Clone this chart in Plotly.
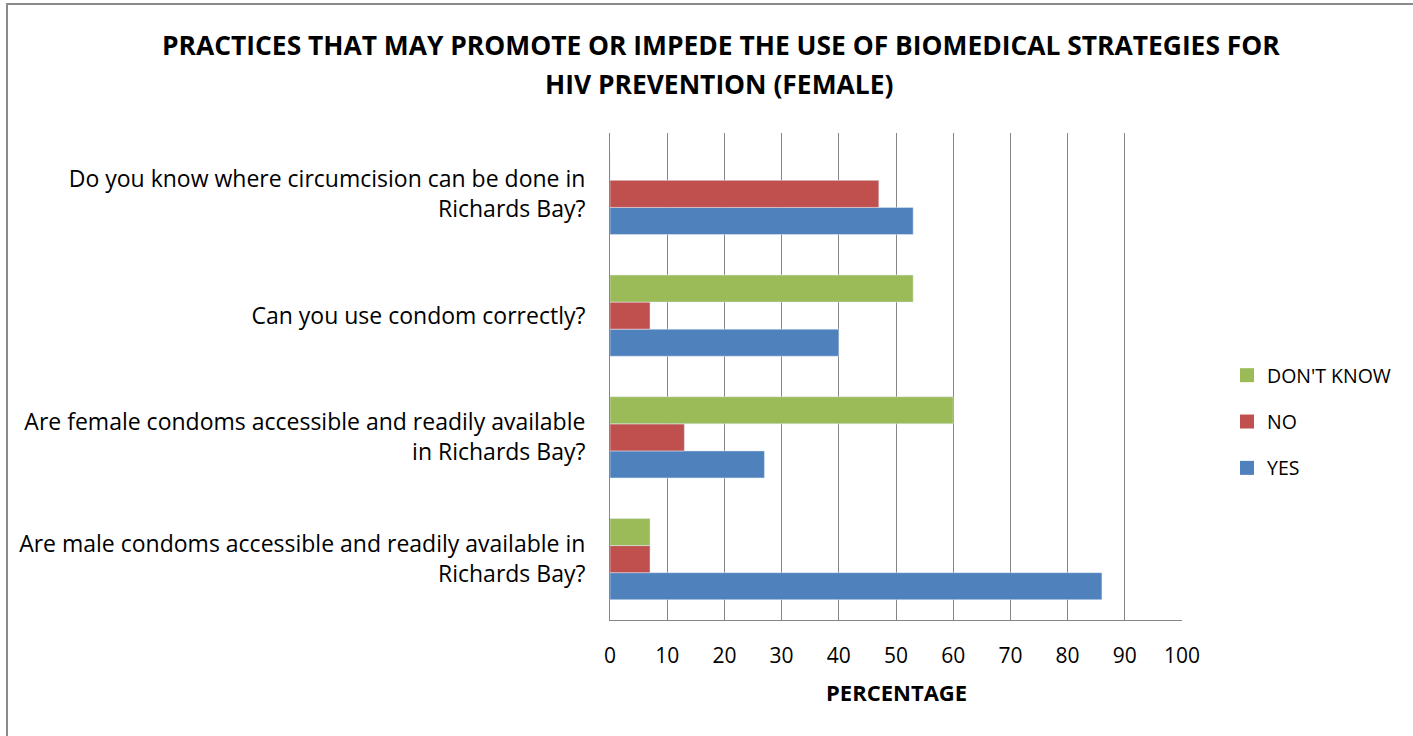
import plotly.graph_objects as go

categories = [
    "Are male condoms accessible and readily available in<br>Richards Bay?",
    "Are female condoms accessible and readily available<br>in Richards Bay?",
    "Can you use condom correctly?",
    "Do you know where circumcision can be done in<br>Richards Bay?",
]
yes_vals = [86, 27, 40, 53]
no_vals = [7, 13, 7, 47]
dk_vals = [7, 60, 53, 0]
series_names = ["YES", "NO", "DON'T KNOW"]
series_colors = ["#4F81BD", "#C0504D", "#9BBB59"]
x_ticks = [0, 10, 20, 30, 40, 50, 60, 70, 80, 90, 100]
title_lines = [
    "PRACTICES THAT MAY PROMOTE OR IMPEDE THE USE OF BIOMEDICAL STRATEGIES FOR",
    "HIV PREVENTION (FEMALE)",
]

FONT = "Open Sans"
W, H = 1413, 736
L, R, T, B = 610, 1182, 133, 620

fig = go.Figure()
for vals, name, color in zip([yes_vals, no_vals, dk_vals], series_names, series_colors):
    fig.add_trace(go.Bar(y=categories, x=vals, name=name, orientation="h",
                         marker=dict(color=color), showlegend=False))
# legend entries (square keys)
for rank, (name, color) in enumerate(zip(series_names, series_colors)):
    fig.add_trace(go.Scatter(x=[None], y=[None], mode="markers", name=name,
                             marker=dict(symbol="square", size=14, color=color),
                             legendgroup=name, legendrank=3 - rank,
                             hoverinfo="skip"))

pw, ph = R - L, B - T

def px(x):
    return (x - L) / pw

def py(y):
    return (B - y) / ph

annotations = [
    dict(text="<b>%s</b>" % title_lines[0], x=px(721), xref="paper",
         y=py(45), yref="paper", xanchor="center", yanchor="middle",
         showarrow=False, font=dict(family=FONT, size=26.4, color="black")),
    dict(text="<b>%s</b>" % title_lines[1], x=px(719), xref="paper",
         y=py(84), yref="paper", xanchor="center", yanchor="middle",
         showarrow=False, font=dict(family=FONT, size=26.4, color="black")),
    dict(text="<b>PERCENTAGE</b>", x=0.5, xref="paper",
         y=py(692), yref="paper", xanchor="center", yanchor="middle",
         showarrow=False, font=dict(family=FONT, size=22, color="black")),
]

fig.update_layout(
    width=W, height=H,
    margin=dict(l=L, r=W - R, t=T, b=H - B, pad=0),
    paper_bgcolor="white", plot_bgcolor="white",
    barmode="group", bargap=0.333, bargroupgap=0,
    font=dict(family=FONT, size=21, color="black"),
    showlegend=True,
    xaxis=dict(
        range=[0, 100], tickvals=x_ticks, ticktext=[str(v) for v in x_ticks],
        showgrid=True, gridcolor="#868686", gridwidth=1,
        showline=True, linecolor="#868686", linewidth=1,
        zeroline=False, ticks="", ticklabelstandoff=17,
        tickfont=dict(family=FONT, size=21),
        fixedrange=True,
    ),
    yaxis=dict(
        showline=True, linecolor="#868686", linewidth=1,
        showgrid=False, zeroline=False, ticks="", ticklabelstandoff=19,
        tickfont=dict(family=FONT, size=23),
        categoryorder="array", categoryarray=categories,
        fixedrange=True,
    ),
    legend=dict(
        x=1227 / W, y=1 - 422 / H, xref="container", yref="container",
        xanchor="left", yanchor="middle",
        traceorder="grouped", tracegroupgap=18,
        font=dict(family=FONT, size=19.5),
        bgcolor="rgba(0,0,0,0)",
    ),
    annotations=annotations,
    shapes=[
        dict(type="rect", xref="paper", yref="paper",
             x0=px(7), x1=px(1425), y0=py(4), y1=py(750),
             line=dict(color="#8A8A8A", width=2), fillcolor="rgba(0,0,0,0)", layer="below"),
    ],
)

fig.write_html("out.html", config={"displayModeBar": False},
               post_script="document.body.style.margin='0';")
